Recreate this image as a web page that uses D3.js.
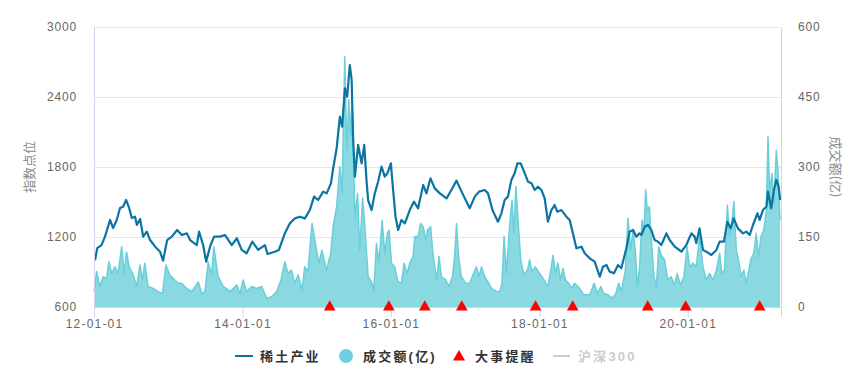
<!DOCTYPE html>
<html>
<head>
<meta charset="utf-8">
<script src="https://cdn.jsdelivr.net/npm/d3@7"></script>
<style>
  body { margin: 0; background: #fff; }
  svg { display: block; }
  text { font-family: "Liberation Sans", Arial, "Noto Sans CJK SC", sans-serif; }
</style>
</head>
<body>
<svg id="chart" width="867" height="386"></svg>
<script>
// index (稀土产业), left axis
const indexDates = [
  "2012-01-06","2012-01-17","2012-02-07","2012-02-24","2012-03-20","2012-04-04","2012-04-22","2012-05-08",
  "2012-05-23","2012-06-07","2012-06-22","2012-07-05","2012-07-21","2012-07-30","2012-08-15","2012-08-30",
  "2012-09-17","2012-10-03","2012-10-28","2012-11-21","2012-12-06","2012-12-26","2013-01-18","2013-02-13",
  "2013-03-08","2013-04-02","2013-04-18","2013-05-21","2013-06-01","2013-06-21","2013-07-06","2013-07-25",
  "2013-08-14","2013-09-12","2013-10-07","2013-11-09","2013-12-04","2013-12-28","2014-01-21","2014-02-18",
  "2014-03-19","2014-04-21","2014-05-04","2014-06-09","2014-06-29","2014-07-28","2014-08-22","2014-09-16",
  "2014-10-10","2014-11-04","2014-11-28","2014-12-19","2015-01-08","2015-02-02","2015-02-19","2015-03-12",
  "2015-03-23","2015-04-09","2015-04-25","2015-05-06","2015-05-20","2015-05-31","2015-06-13","2015-06-22",
  "2015-06-29","2015-07-08","2015-07-24","2015-08-10","2015-08-23","2015-09-03","2015-09-11","2015-09-28",
  "2015-10-14","2015-10-30","2015-11-16","2015-12-02","2015-12-15","2016-01-01","2016-01-12","2016-01-24",
  "2016-02-06","2016-02-22","2016-03-10","2016-04-03","2016-04-23","2016-05-14","2016-06-08","2016-06-24",
  "2016-07-14","2016-08-04","2016-08-29","2016-10-01","2016-10-25","2016-11-19","2016-12-14","2017-01-03",
  "2017-01-23","2017-02-17","2017-03-10","2017-04-07","2017-04-23","2017-05-15","2017-06-11","2017-06-28",
  "2017-07-14","2017-07-30","2017-08-16","2017-09-01","2017-09-15","2017-10-01","2017-10-21","2017-11-06",
  "2017-11-23","2017-12-09","2017-12-25","2018-01-11","2018-01-27","2018-02-12","2018-03-01","2018-03-17",
  "2018-03-30","2018-04-19","2018-05-14","2018-05-30","2018-06-15","2018-07-02","2018-07-27","2018-08-12",
  "2018-09-06","2018-09-30","2018-10-25","2018-11-10","2018-11-27","2018-12-13","2019-01-03","2019-01-23",
  "2019-02-08","2019-03-05","2019-03-21","2019-04-07","2019-04-23","2019-05-09","2019-05-18","2019-06-03",
  "2019-06-19","2019-07-06","2019-07-22","2019-08-08","2019-08-24","2019-09-18","2019-10-04","2019-10-29",
  "2019-12-01","2019-12-25","2020-01-19","2020-02-04","2020-02-12","2020-02-28","2020-03-16","2020-04-02",
  "2020-04-26","2020-05-21","2020-06-06","2020-06-27","2020-07-14","2020-07-30","2020-08-14","2020-09-04",
  "2020-09-29","2020-10-15","2020-11-01","2020-11-17","2020-12-09","2020-12-20","2021-01-05","2021-01-22",
  "2021-01-30","2021-02-15","2021-02-28","2021-03-12","2021-03-23","2021-03-31"
];
const indexValues = [
  1000,1105,1131,1203,1346,1277,1346,1449,
  1460,1517,1449,1363,1374,1303,1354,1203,
  1246,1174,1117,1074,997,1174,1203,1260,
  1217,1231,1174,1131,1246,1131,989,1117,
  1203,1203,1217,1131,1189,1089,1060,1160,
  1089,1131,1054,1074,1089,1231,1317,1360,
  1374,1360,1431,1546,1517,1589,1574,1660,
  1789,1960,2231,2146,2474,2403,2674,2546,
  2060,1717,1989,1831,1989,1689,1517,1431,
  1574,1674,1803,1717,1746,1831,1603,1374,
  1260,1346,1317,1431,1503,1446,1646,1574,
  1703,1617,1574,1531,1603,1683,1589,1517,
  1446,1546,1589,1603,1574,1431,1331,1403,
  1517,1546,1689,1746,1831,1831,1746,1674,
  1660,1603,1631,1603,1531,1331,1431,1474,
  1417,1431,1374,1346,1231,1103,1117,1060,
  1017,989,860,946,960,903,889,960,
  932,1103,1246,1260,1203,1231,1217,1288,
  1303,1260,1174,1160,1131,1231,1174,1117,
  1074,1131,1231,1203,1146,1274,1089,1074,
  1046,1089,1160,1160,1331,1274,1360,1274,
  1231,1246,1217,1303,1403,1346,1431,1460,
  1589,1446,1603,1689,1631,1517
];

// turnover 成交额(亿), right axis
const volumeDates = [
  "2012-01-01","2012-01-14","2012-01-30","2012-02-15","2012-03-03","2012-03-14","2012-03-28","2012-04-13",
  "2012-04-29","2012-05-16","2012-05-29","2012-06-09","2012-06-22","2012-07-12","2012-07-29","2012-08-14",
  "2012-08-27","2012-09-07","2012-09-23","2012-10-18","2012-11-12","2012-12-03","2012-12-20","2013-01-08",
  "2013-02-02","2013-02-18","2013-03-07","2013-04-01","2013-04-26","2013-05-28","2013-06-14","2013-06-30",
  "2013-07-16","2013-08-02","2013-08-13","2013-09-03","2013-09-28","2013-10-23","2013-11-01","2013-12-04",
  "2013-12-20","2014-01-04","2014-01-21","2014-02-15","2014-03-11","2014-04-05","2014-04-30","2014-05-24",
  "2014-06-18","2014-07-09","2014-07-28","2014-08-13","2014-08-30","2014-09-15","2014-10-02","2014-10-21",
  "2014-11-03","2014-11-19","2014-12-09","2014-12-26","2015-01-11","2015-01-27","2015-02-18","2015-03-11",
  "2015-03-23","2015-04-09","2015-04-25","2015-05-06","2015-05-19","2015-05-29","2015-06-08","2015-06-18",
  "2015-06-24","2015-07-08","2015-07-21","2015-08-01","2015-08-15","2015-08-26","2015-09-11","2015-09-28",
  "2015-10-09","2015-10-22","2015-11-04","2015-11-19","2015-12-02","2015-12-15","2015-12-23","2016-01-04",
  "2016-01-20","2016-02-05","2016-02-22","2016-03-06","2016-03-21","2016-04-03","2016-04-19","2016-04-28",
  "2016-05-14","2016-05-26","2016-06-08","2016-06-21","2016-06-29","2016-07-15","2016-07-24","2016-08-04",
  "2016-08-15","2016-08-25","2016-09-06","2016-09-27","2016-10-13","2016-10-30","2016-11-10","2016-11-19",
  "2016-11-29","2016-12-13","2017-01-03","2017-01-23","2017-02-08","2017-02-25","2017-03-10","2017-03-22",
  "2017-04-07","2017-04-23","2017-05-10","2017-06-03","2017-06-20","2017-07-01","2017-07-11","2017-07-23",
  "2017-08-08","2017-08-19","2017-08-29","2017-09-07","2017-09-18","2017-10-01","2017-10-17","2017-11-03",
  "2017-11-14","2017-11-25","2017-12-12","2018-01-02","2018-01-24","2018-02-12","2018-02-25","2018-03-09",
  "2018-03-21","2018-04-02","2018-04-15","2018-04-27","2018-05-09","2018-05-25","2018-06-10","2018-06-23",
  "2018-07-18","2018-08-08","2018-09-06","2018-09-27","2018-10-14","2018-10-30","2018-11-15","2018-12-05",
  "2018-12-21","2019-01-10","2019-01-26","2019-02-08","2019-02-28","2019-03-13","2019-03-26","2019-04-07",
  "2019-04-19","2019-04-28","2019-05-09","2019-05-21","2019-05-31","2019-06-08","2019-06-16","2019-06-26",
  "2019-07-06","2019-07-19","2019-07-31","2019-08-11","2019-08-24","2019-09-09","2019-09-25","2019-10-12",
  "2019-10-28","2019-11-10","2019-11-26","2019-12-13","2019-12-29","2020-01-10","2020-01-26","2020-02-12",
  "2020-02-28","2020-03-16","2020-04-02","2020-04-18","2020-05-04","2020-05-21","2020-06-06","2020-06-17",
  "2020-06-30","2020-07-14","2020-07-25","2020-08-05","2020-08-15","2020-08-27","2020-09-07","2020-09-20",
  "2020-10-03","2020-10-15","2020-10-28","2020-11-08","2020-11-21","2020-12-03","2020-12-14","2020-12-27",
  "2021-01-09","2021-01-22","2021-01-30","2021-02-07","2021-02-18","2021-02-28","2021-03-12","2021-03-20",
  "2021-03-30"
];
const volumeValues = [
  33,76,44,65,61,97,72,86,
  72,129,72,118,86,69,44,90,
  58,94,44,40,33,29,90,69,
  58,51,51,40,33,54,29,33,
  97,69,129,65,44,36,33,47,
  29,58,33,44,40,44,19,22,
  33,58,97,72,79,51,69,36,
  86,76,179,136,94,122,79,115,
  172,215,301,244,536,336,444,365,
  444,193,244,122,233,172,65,54,
  36,136,97,186,115,158,165,94,
  86,54,51,94,72,94,108,151,
  151,179,172,144,165,172,122,86,
  58,108,65,58,44,65,108,179,
  108,65,51,51,69,86,65,86,
  65,54,40,33,33,51,151,72,
  179,229,158,258,186,101,69,79,
  101,76,86,72,58,44,76,111,
  72,94,58,83,58,51,40,51,
  40,26,26,51,29,44,29,26,
  19,26,51,33,79,190,122,165,
  115,44,86,186,165,251,208,215,
  144,65,44,129,111,101,58,65,
  47,72,47,65,129,86,94,86,
  151,86,58,72,58,79,115,72,
  79,218,151,179,226,122,101,65,
  79,51,79,104,115,158,108,151,
  165,208,365,244,286,222,336,294,
  186
];

// 大事提醒 markers
const eventDates = [
  "2015-03-06","2015-12-22","2016-06-16","2016-12-15","2017-12-13",
  "2018-06-14","2019-06-18","2019-12-22","2020-12-20"
];

const xTickDates = ["2012-01-01","2014-01-01","2016-01-01","2018-01-01","2020-01-01"];
const leftTicks = [600, 1200, 1800, 2400, 3000];
const rightTicks = [0, 150, 300, 450, 600];

const legendItems = ["稀土产业", "成交额(亿)", "大事提醒", "沪深300"];

const lineColor = "#0b74a3";
const areaFill = "#8ad8e0";
const areaStroke = "#6acfda";
const eventColor = "#ff0000";

const parse = d3.timeParse("%Y-%m-%d");
const svg = d3.select("#chart");
const margin = { left: 94, right: 86, top: 27, bottom: 79 };
const width = 867, height = 386;

const x = d3.scaleTime()
  .domain([parse("2012-01-01"), parse("2021-04-04")])
  .range([margin.left, width - margin.right]);
const yLeft = d3.scaleLinear().domain([600, 3000]).range([height - margin.bottom, margin.top]);
const yRight = d3.scaleLinear().domain([0, 600]).range([height - margin.bottom, margin.top]);

const indexData = indexDates.map((d, i) => ({ date: parse(d), value: indexValues[i] }));
const volumeData = volumeDates.map((d, i) => ({ date: parse(d), value: volumeValues[i] }));

// grid
svg.append("g")
  .selectAll("line")
  .data(leftTicks.slice(1))
  .join("line")
  .attr("x1", margin.left).attr("x2", width - margin.right)
  .attr("y1", (d) => yLeft(d) + 0.5).attr("y2", (d) => yLeft(d) + 0.5)
  .attr("stroke", "#e6e6e6");

// volume area
const area = d3.area()
  .x((d) => x(d.date))
  .y0(yRight(0))
  .y1((d) => yRight(d.value));

svg.append("path")
  .datum(volumeData)
  .attr("fill", areaFill)
  .attr("d", area);

svg.append("path")
  .datum(volumeData)
  .attr("fill", "none")
  .attr("stroke", areaStroke)
  .attr("stroke-width", 1.5)
  .attr("stroke-linejoin", "round")
  .attr("d", d3.line().x((d) => x(d.date)).y((d) => yRight(d.value)));

// index line
svg.append("path")
  .datum(indexData)
  .attr("fill", "none")
  .attr("stroke", lineColor)
  .attr("stroke-width", 2.2)
  .attr("stroke-linejoin", "round")
  .attr("d", d3.line().x((d) => x(d.date)).y((d) => yLeft(d.value)));

// axes
const xAxis = svg.append("g")
  .attr("transform", `translate(0, ${height - margin.bottom})`)
  .call(d3.axisBottom(x)
    .tickValues(xTickDates.map(parse))
    .tickFormat(d3.timeFormat("%y-%m-%d"))
    .tickSize(10)
    .tickPadding(2));
xAxis.select(".domain").attr("stroke", "#ccd6eb");
xAxis.selectAll(".tick line").attr("stroke", "#ccd6eb");
xAxis.selectAll(".tick text")
  .attr("fill", "#666").attr("font-size", 12).style("letter-spacing", "1.2px");

const leftAxis = svg.append("g")
  .attr("transform", `translate(${margin.left}, 0)`)
  .call(d3.axisLeft(yLeft).tickValues(leftTicks).tickFormat(d3.format("d")).tickSize(0).tickPadding(17));
leftAxis.select(".domain").attr("stroke", "#ccd6eb");
leftAxis.selectAll(".tick text")
  .attr("fill", "#666").attr("font-size", 12).style("letter-spacing", "0.8px");

const rightAxis = svg.append("g")
  .attr("transform", `translate(${width - margin.right}, 0)`)
  .call(d3.axisRight(yRight).tickValues(rightTicks).tickFormat(d3.format("d")).tickSize(0).tickPadding(17));
rightAxis.select(".domain").attr("stroke", "#ccd6eb");
rightAxis.selectAll(".tick text")
  .attr("fill", "#666").attr("font-size", 12).style("letter-spacing", "0.8px");

// axis titles
svg.append("text")
  .attr("transform", `translate(28, ${(margin.top + height - margin.bottom) / 2}) rotate(-90)`)
  .attr("text-anchor", "middle").attr("dominant-baseline", "central")
  .attr("fill", "#888").attr("font-size", 13)
  .style("font-family", "'Noto Sans CJK SC', sans-serif")
  .text("指数点位");
svg.append("text")
  .attr("transform", `translate(836, ${(margin.top + height - margin.bottom) / 2}) rotate(90)`)
  .attr("text-anchor", "middle").attr("dominant-baseline", "central")
  .attr("fill", "#888").attr("font-size", 13)
  .style("font-family", "'Noto Sans CJK SC', sans-serif")
  .text("成交额(亿)");

// event markers
const tri = d3.symbol().type(d3.symbolTriangle).size(60);
svg.append("g")
  .selectAll("path")
  .data(eventDates.map(parse))
  .join("path")
  .attr("transform", (d) => `translate(${x(d)}, ${yRight(0)})`)
  .attr("fill", eventColor)
  .attr("d", tri);

// legend
const legend = svg.append("g").attr("transform", "translate(0, 356)");
legend.append("line").attr("x1", 235).attr("x2", 253).attr("stroke", lineColor).attr("stroke-width", 2);
legend.append("circle").attr("cx", 346).attr("r", 7).attr("fill", "#6dd0dc");
legend.append("path").attr("d", d3.symbol().type(d3.symbolTriangle).size(64)()).attr("transform", "translate(459, 1)").attr("fill", eventColor);
legend.append("line").attr("x1", 553).attr("x2", 570).attr("stroke", "#cccccc").attr("stroke-width", 2);

const legendX = [260, 363, 475, 578];
legend.selectAll("text")
  .data(legendItems)
  .join("text")
  .attr("x", (d, i) => legendX[i])
  .attr("dominant-baseline", "central")
  .attr("font-size", 13)
  .attr("font-weight", "bold")
  .attr("fill", (d, i) => (i === 3 ? "#cccccc" : "#333333"))
  .style("letter-spacing", "2.2px")
  .text((d) => d);
</script>
</body>
</html>
